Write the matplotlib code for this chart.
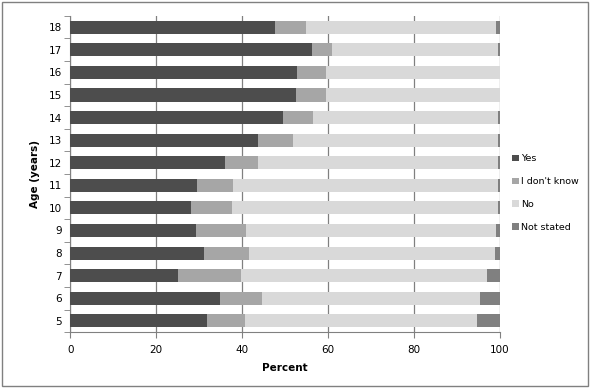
import matplotlib
matplotlib.use("Agg")
from matplotlib import pyplot as plt
from matplotlib.patches import Rectangle
import numpy as np

# data, ages 5..18
ages = ["5", "6", "7", "8", "9", "10", "11", "12", "13", "14", "15", "16", "17", "18"]
yes = [31.8, 34.8, 25.0, 31.1, 29.2, 28.1, 29.5, 36.0, 43.7, 49.5, 52.6, 52.8, 56.3, 47.7]
dont_know = [8.9, 9.8, 14.7, 10.5, 11.7, 9.5, 8.4, 7.7, 8.2, 7.0, 7.0, 6.8, 4.7, 7.2]
no = [54.1, 50.9, 57.4, 57.2, 58.3, 61.9, 61.6, 55.8, 47.8, 43.2, 40.4, 40.4, 38.7, 44.3]
not_stated = [5.2, 4.5, 2.9, 1.2, 0.8, 0.5, 0.5, 0.5, 0.3, 0.3, 0.0, 0.0, 0.3, 0.8]

series = [("Yes", yes, "#4d4d4d"),
          ("I don't know", dont_know, "#a6a6a6"),
          ("No", no, "#d9d9d9"),
          ("Not stated", not_stated, "#808080")]

plt.rcParams["font.family"] = "DejaVu Sans"

fig = plt.figure(figsize=(5.9, 3.88), dpi=100)
ax = fig.add_axes([0.119, 0.144, 0.728, 0.815])

# outer frame like the original chart area
fig.patches.append(Rectangle((0.004, 0.005), 0.992, 0.99, transform=fig.transFigure,
                             fill=False, edgecolor="#808080", linewidth=1.0))

y = np.arange(len(ages))
left = np.zeros(len(ages))
for name, vals, col in series:
    vals = np.array(vals)
    ax.barh(y, vals, left=left, height=0.58, color=col, label=name, zorder=3)
    left += vals

ax.set_xlim(0, 100)
ax.set_ylim(-0.5, len(ages) - 0.5)
ax.set_xticks([0, 20, 40, 60, 80, 100])
ax.set_yticks(y)
ax.set_yticklabels(ages)
ax.set_yticks(np.arange(-0.5, len(ages), 1.0), minor=True)
ax.tick_params(axis="y", which="major", length=0, labelsize=7.5, pad=6)
ax.tick_params(axis="y", which="minor", length=4, color="#808080")
ax.tick_params(axis="x", length=4, color="#808080", labelsize=7.5, pad=5)

ax.xaxis.grid(True, color="#808080", linewidth=0.9, zorder=0)
for s in ["top", "right"]:
    ax.spines[s].set_visible(False)
for s in ["left", "bottom"]:
    ax.spines[s].set_color("#808080")

ax.set_xlabel("Percent", fontsize=7.5, fontweight="bold", labelpad=6)
ax.set_ylabel("Age (years)", fontsize=7.5, fontweight="bold", labelpad=6)

leg = ax.legend(loc="center left", bbox_to_anchor=(1.014, 0.44), frameon=False,
                fontsize=6.8, handlelength=0.7, handleheight=0.7, handletextpad=0.25,
                labelspacing=1.45, borderaxespad=0.3)

fig.savefig("out.png", dpi=100)
